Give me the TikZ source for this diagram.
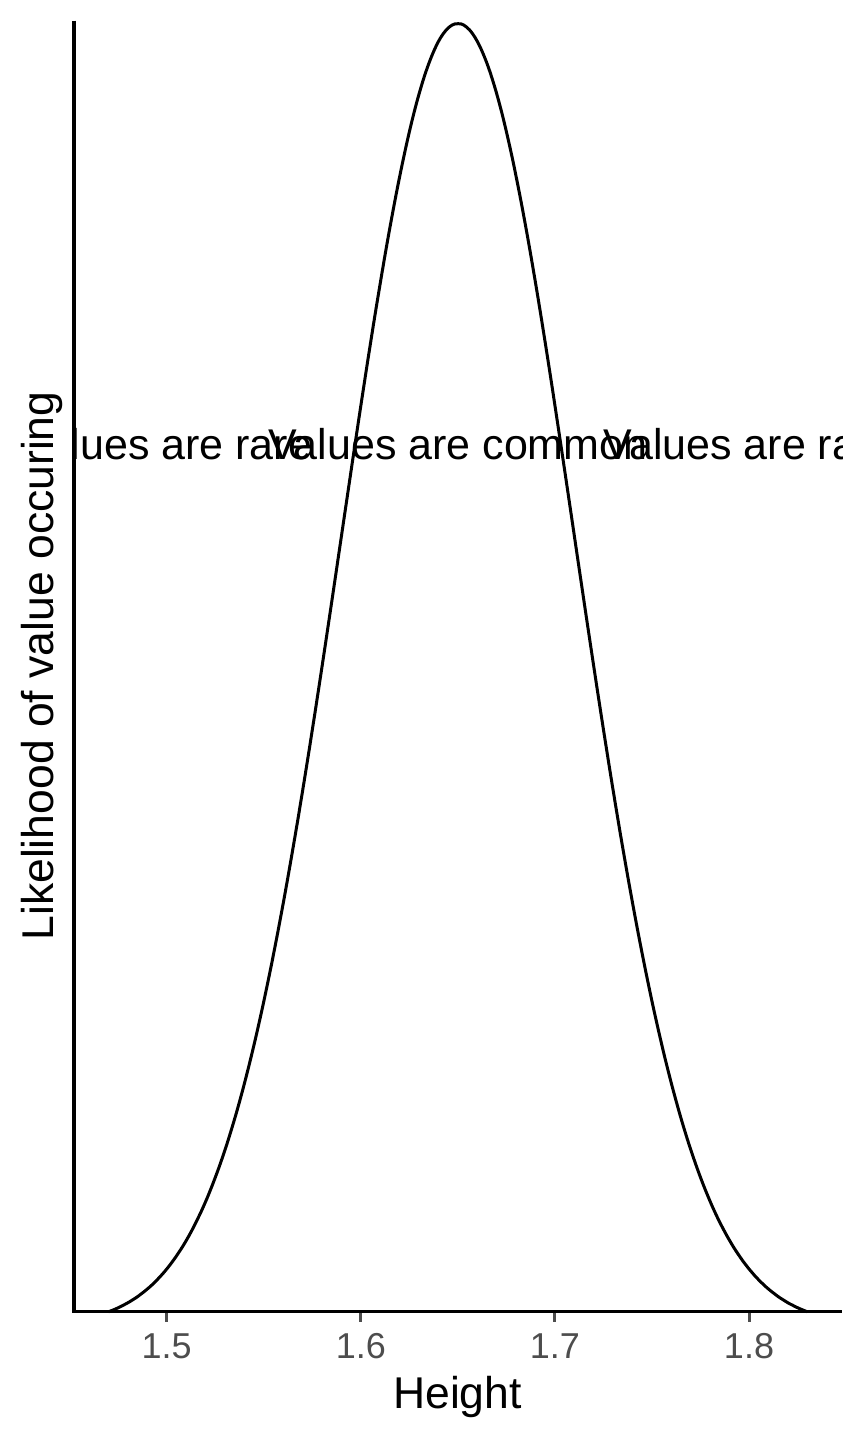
\documentclass[tikz,border=0pt]{standalone}
\usepackage{fontspec}
\setmainfont{Liberation Sans}
\begin{document}
\begin{tikzpicture}[x=1pt,y=1pt,
  axisline/.style={line width=3.3pt, black, line join=miter},
  tickmark/.style={line width=3pt, color=ticklab},
  ticklabel/.style={anchor=base, text=ticklab, font=\fontsize{36}{40}\selectfont, inner sep=0pt},
  axtitle/.style={anchor=base, font=\fontsize{44.5}{50}\selectfont, inner sep=0pt},
  annot/.style={anchor=base, font=\fontsize{43}{48}\selectfont, inner sep=0pt},
  curve/.style={line width=3pt, black}]
\definecolor{ticklab}{HTML}{4D4D4D}
\useasboundingbox (0,0) rectangle (864,1440);
% axes
\coordinate (ytop) at (74,1419.3);
\coordinate (origin) at (74,128.3);
\coordinate (xend) at (842,128.3);
% density curve
\draw[curve] plot[domain=-3:3, samples=241, smooth]
  ({457.9+\x*116.46}, {128.3+1288*(exp(-0.5*(\x)^2)-0.011109)/0.988891});
% annotations clipped to panel
\begin{scope}
\clip (74,0) rectangle (842,1440);
\node[annot] (rareL) at (166.7,980) {Values are rare};
\node[annot] (common) at (457.9,980) {Values are common};
\node[annot] (rareR) at (749.0,980) {Values are rare};
\end{scope}
\draw[axisline] (ytop) -- (origin) -- (xend);
% ticks
\foreach \i/\v/\px in {a/1.5/166.7, b/1.6/360.8, c/1.7/554.9, d/1.8/749.0}{
  \coordinate (tick\i) at (\px,126.6);
  \coordinate (tickend\i) at (\px,118);
  \draw[tickmark] (tick\i) -- (tickend\i);
  \node[ticklabel] (lab\i) at (\px,81) {\v};
}
\node[axtitle] (xtitle) at (457.5,31) {Height};
\node[axtitle, rotate=90] (ytitle) at (53,774) {Likelihood of value occuring};
\end{tikzpicture}
\end{document}
